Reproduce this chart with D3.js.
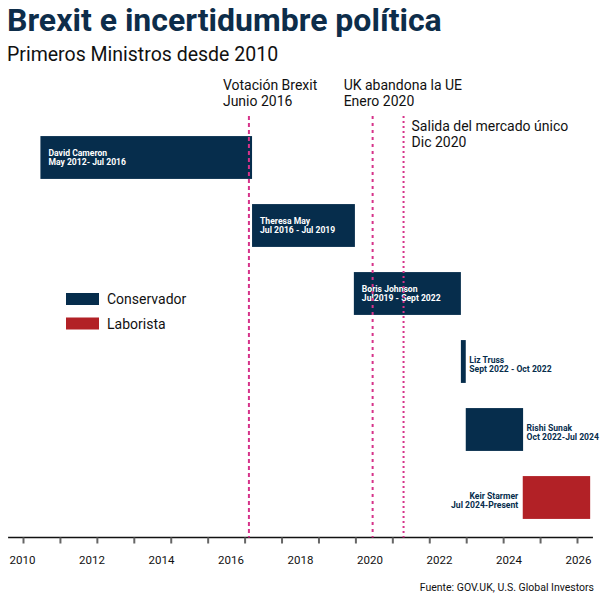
<!DOCTYPE html>
<html>
<head>
<meta charset="utf-8">
<script src="https://cdn.jsdelivr.net/npm/d3@7"></script>
<style>
  body { margin: 0; background: #fff; }
  svg { display: block; font-family: Roboto, "Noto Sans", sans-serif; }
</style>
</head>
<body>
<svg id="chart" width="600" height="600"></svg>
<script>
// primeros ministros
var names = ["David Cameron", "Theresa May", "Boris Johnson", "Liz Truss", "Rishi Sunak", "Keir Starmer"];
var periods = ["May 2012- Jul 2016", "Jul 2016 - Jul 2019", "Jul2019 - Sept 2022", "Sept 2022 - Oct 2022", "Oct 2022-Jul 2024", "Jul 2024-Present"];
var starts = [2010.53, 2016.62, 2019.55, 2022.63, 2022.77, 2024.41];
var ends = [2016.62, 2019.58, 2022.63, 2022.77, 2024.42, 2026.35];
var parties = ["Conservador", "Conservador", "Conservador", "Conservador", "Conservador", "Laborista"];

// eventos
var eventYears = [2016.53, 2020.09, 2020.98];
var eventLine1 = ["Votación Brexit", "UK abandona la UE", "Salida del mercado único"];
var eventLine2 = ["Junio 2016", "Enero 2020", "Dic 2020"];

// eje
var tickYears = [2010, 2012, 2014, 2016, 2018, 2020, 2022, 2024, 2026];
var partyNames = ["Conservador", "Laborista"];

var svg = d3.select("#chart"),
  NAVY = "#062d4c",
  RED = "#b22126",
  PINK = "#d6338a";

var color = d3.scaleOrdinal().domain(partyNames).range([NAVY, RED]);

//scales
var xScale = d3.scaleLinear().domain([2010, 2026]).range([22, 578]);
var yScale = d3.scaleBand().domain(names).range([123.5, 531.5]).paddingInner(0.37).paddingOuter(0.185);

var rows = names.map(function (n, i) {
  return { name: n, period: periods[i], start: starts[i], end: ends[i], party: parties[i] };
});

// titles
svg.append("text")
  .attr("x", 7).attr("y", 31)
  .attr("fill", "#0d2d4a")
  .style("font-size", "32px").style("font-weight", "bold")
  .text("Brexit e incertidumbre política");

svg.append("text")
  .attr("x", 7).attr("y", 61)
  .attr("fill", "#111")
  .style("font-size", "19.5px")
  .text("Primeros Ministros desde 2010");

// axis
var AXIS_Y = 537.5;
svg.append("line")
  .attr("x1", xScale(2009.6)).attr("x2", xScale(2026.43))
  .attr("y1", AXIS_Y).attr("y2", AXIS_Y)
  .attr("stroke", "#111").attr("stroke-width", 1.5);

// tick marks (16 marks spread across the axis)
var markScale = d3.scaleLinear().domain([0, 15]).range([xScale(2010) + 1, xScale(2026) - 1]);
var marks = svg.append("g")
  .attr("transform", "translate(0," + AXIS_Y + ")")
  .call(d3.axisBottom(markScale).ticks(15).tickSize(6).tickFormat(""));
marks.select(".domain").remove();
marks.selectAll(".tick line").attr("stroke", "#666").attr("stroke-width", 2);

var labels = svg.append("g")
  .attr("transform", "translate(0," + AXIS_Y + ")")
  .call(d3.axisBottom(xScale).tickValues(tickYears).tickSize(0).tickPadding(18).tickFormat(d3.format("d")));
labels.select(".domain").remove();
labels.selectAll("text")
  .attr("fill", "#111")
  .style("font-size", "11.5px")
  .style("font-family", "Roboto, sans-serif");

// bars
svg.append("g").selectAll("rect")
  .data(rows)
  .join("rect")
  .attr("x", function (d) { return xScale(d.start); })
  .attr("y", function (d) { return yScale(d.name); })
  .attr("width", function (d) { return xScale(d.end) - xScale(d.start); })
  .attr("height", yScale.bandwidth())
  .attr("fill", function (d) { return color(d.party); });

// bar labels: inside for the long ones, outside for the short
var place = ["in", "in", "in", "right", "right", "left"];
var lab = svg.append("g").selectAll("text")
  .data(rows)
  .join("text")
  .attr("x", function (d, i) {
    if (place[i] == "in") return xScale(d.start) + 8;
    if (place[i] == "right") return xScale(d.end) + 3.5;
    return xScale(d.start) - 4.5;
  })
  .attr("text-anchor", function (d, i) { return place[i] == "left" ? "end" : "start"; })
  .attr("fill", function (d, i) { return place[i] == "in" ? "#fff" : NAVY; })
  .style("font-size", "8.6px")
  .style("font-weight", "bold");
lab.append("tspan")
  .attr("x", function () { return d3.select(this.parentNode).attr("x"); })
  .attr("y", function (d, i) { return yScale(d.name) + yScale.bandwidth() / 2 + (place[i] == "in" ? -2 : 1); })
  .text(function (d) { return d.name; });
lab.append("tspan")
  .attr("x", function () { return d3.select(this.parentNode).attr("x"); })
  .attr("dy", 9.5)
  .text(function (d) { return d.period; });

// legend
var legend = svg.append("g").attr("transform", "translate(66,293)");
partyNames.forEach(function (p, i) {
  legend.append("rect")
    .attr("x", 0).attr("y", i * 24.5)
    .attr("width", 33).attr("height", 12)
    .attr("fill", color(p));
  legend.append("text")
    .attr("x", 41).attr("y", i * 24.5 + 11)
    .attr("fill", "#111")
    .style("font-size", "14px")
    .text(p);
});

// event lines
var dashes = ["4,3", "3,4", "2,3"];
var annoX = [-26, -29, 8];
var annoY = [90, 90, 131];
svg.append("g").selectAll("line")
  .data(eventYears)
  .join("line")
  .attr("x1", function (d) { return xScale(d); })
  .attr("x2", function (d) { return xScale(d); })
  .attr("y1", 116).attr("y2", AXIS_Y)
  .attr("stroke", PINK).attr("stroke-width", 2)
  .attr("stroke-dasharray", function (d, i) { return dashes[i]; });

var ann = svg.append("g").selectAll("text")
  .data(eventYears)
  .join("text")
  .attr("fill", "#111")
  .style("font-size", "14px");
ann.append("tspan")
  .attr("x", function (d, i) { return xScale(d) + annoX[i]; })
  .attr("y", function (d, i) { return annoY[i]; })
  .text(function (d, i) { return eventLine1[i]; });
ann.append("tspan")
  .attr("x", function (d, i) { return xScale(d) + annoX[i]; })
  .attr("dy", 16)
  .text(function (d, i) { return eventLine2[i]; });

// source
svg.append("text")
  .attr("x", 594).attr("y", 591)
  .attr("text-anchor", "end")
  .attr("fill", "#111")
  .style("font-size", "10.5px")
  .text("Fuente: GOV.UK, U.S. Global Investors");
</script>
</body>
</html>
